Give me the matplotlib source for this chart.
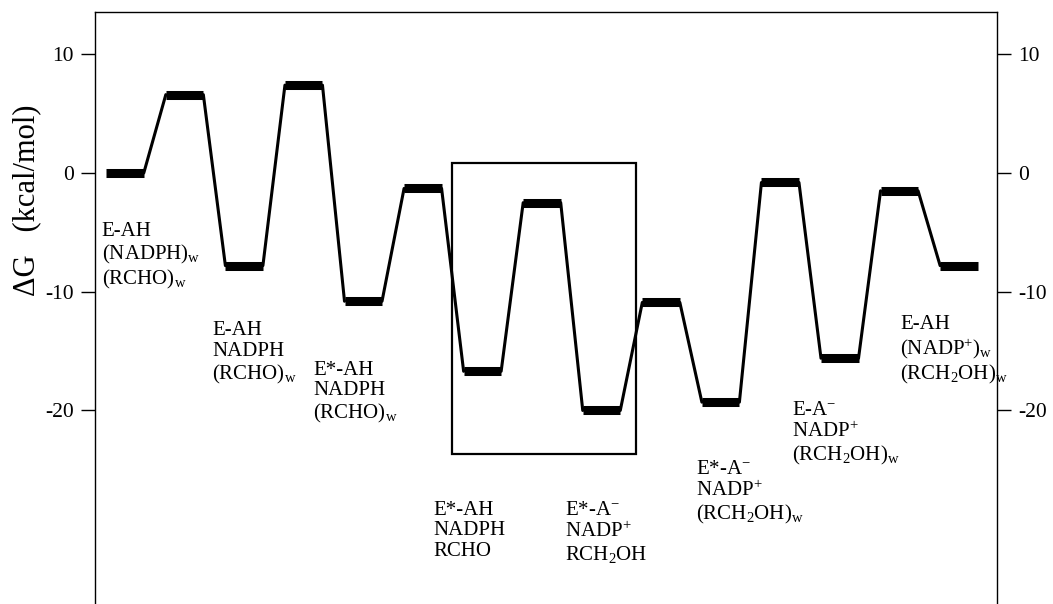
import numpy as np
import matplotlib
matplotlib.use("Agg")
import matplotlib.pyplot as plt
from matplotlib.patches import Rectangle

plt.rcParams['font.family'] = ['Liberation Serif', 'DejaVu Serif']
plt.rcParams['mathtext.fontset'] = 'custom'
plt.rcParams['mathtext.rm'] = 'Liberation Serif'
plt.rcParams['mathtext.it'] = 'Liberation Serif:italic'
plt.rcParams['axes.unicode_minus'] = False

# free energy of each state (kcal/mol)
energies = [0.0, 6.6, -7.8, 7.4, -10.8, -1.3, -16.7, -2.5, -20.0, -10.9, -19.3, -0.8, -15.6, -1.5, -7.8]

labels = [
    "E-AH\n(NADPH)$_\\mathrm{w}$\n(RCHO)$_\\mathrm{w}$",
    "E-AH\nNADPH\n(RCHO)$_\\mathrm{w}$",
    "E*-AH\nNADPH\n(RCHO)$_\\mathrm{w}$",
    "E*-AH\nNADPH\nRCHO",
    "E*-A$^{-}$\nNADP$^{+}$\nRCH$_2$OH",
    "E*-A$^{-}$\nNADP$^{+}$\n(RCH$_2$OH)$_\\mathrm{w}$",
    "E-A$^{-}$\nNADP$^{+}$\n(RCH$_2$OH)$_\\mathrm{w}$",
    "E-AH\n(NADP$^{+}$)$_\\mathrm{w}$\n(RCH$_2$OH)$_\\mathrm{w}$",
]
label_x = [-0.39, 1.46, 3.16, 5.17, 7.39, 9.58, 11.2, 13.01]
label_y = [-4.1, -12.5, -15.8, -27.6, -27.6, -24.2, -19.2, -12.0]

box_x = (5.49, 8.58)
box_y = (-23.65, 0.85)

hw = 0.315
fig = plt.figure(figsize=(10.53, 6.04), dpi=100)
ax = fig.add_axes([95 / 1053, 0.0, (997 - 95) / 1053, 1 - 12 / 604])

x = np.arange(len(energies))
for i, e in enumerate(energies):
    ax.plot([x[i] - hw, x[i] + hw], [e, e], color='black', lw=6.5, solid_capstyle='butt')
    if i < len(energies) - 1:
        ax.plot([x[i] + hw, x[i + 1] - hw], [e, energies[i + 1]], color='black', lw=2.2,
                solid_capstyle='round')

ax.add_patch(Rectangle((box_x[0], box_y[0]), box_x[1] - box_x[0], box_y[1] - box_y[0],
                       fill=False, ec='black', lw=1.6))

for lab, lx, ly in zip(labels, label_x, label_y):
    ax.text(lx, ly, lab, fontsize=15, va='top', ha='left', linespacing=1.12)

ax.set_xlim(-0.504, 14.64)
ax.set_ylim(-36.3, 13.56)
ax.set_xticks([])
ax.set_yticks([10, 0, -10, -20])
ax.set_yticklabels(['10', '0', '-10', '-20'])
ax.tick_params(axis='y', direction='out', length=10, width=1, labelsize=15.5,
               left=True, right=True, labelleft=True, labelright=True, pad=5)
ax.spines['bottom'].set_visible(False)
for s in ['left', 'right', 'top']:
    ax.spines[s].set_linewidth(1)

fig.text(27 / 1053, 1 - 200 / 604, "ΔG   (kcal/mol)", rotation=90, fontsize=22,
         va='center', ha='center', family=['Liberation Serif', 'DejaVu Sans'])

fig.savefig("out.png", dpi=100)
